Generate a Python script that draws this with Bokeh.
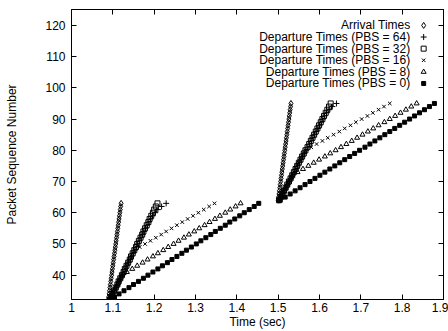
from bokeh.plotting import figure
from bokeh.models import Range1d, LinearAxis, FixedTicker, PrintfTickFormatter, Label
from bokeh.embed import file_html
from bokeh.resources import INLINE

# ---------------- data ----------------
seq_burst1 = [32, 33, 34, 35, 36, 37, 38, 39, 40, 41, 42, 43, 44, 45, 46, 47,
              48, 49, 50, 51, 52, 53, 54, 55, 56, 57, 58, 59, 60, 61, 62, 63]
seq_burst2 = [64, 65, 66, 67, 68, 69, 70, 71, 72, 73, 74, 75, 76, 77, 78, 79,
              80, 81, 82, 83, 84, 85, 86, 87, 88, 89, 90, 91, 92, 93, 94, 95]

arrival_1 = [1.089, 1.090, 1.091, 1.092, 1.093, 1.094, 1.095, 1.096, 1.097, 1.098, 1.099,
             1.100, 1.101, 1.102, 1.103, 1.104, 1.105, 1.106, 1.107, 1.108, 1.109, 1.110,
             1.111, 1.112, 1.113, 1.114, 1.115, 1.116, 1.117, 1.118, 1.119, 1.120]
arrival_2 = [1.500, 1.501, 1.502, 1.503, 1.504, 1.505, 1.506, 1.507, 1.508, 1.509, 1.510,
             1.511, 1.512, 1.513, 1.514, 1.515, 1.516, 1.517, 1.518, 1.519, 1.520, 1.521,
             1.522, 1.523, 1.524, 1.525, 1.526, 1.527, 1.528, 1.529, 1.530, 1.531]

pbs64_1 = [1.093, 1.097, 1.100, 1.104, 1.108, 1.112, 1.115, 1.119, 1.123, 1.127, 1.130,
           1.134, 1.138, 1.142, 1.145, 1.149, 1.153, 1.157, 1.160, 1.164, 1.168, 1.172,
           1.175, 1.179, 1.183, 1.187, 1.191, 1.196, 1.202, 1.209, 1.218, 1.229]
pbs64_2 = [1.503, 1.507, 1.511, 1.515, 1.519, 1.523, 1.527, 1.531, 1.535, 1.539, 1.543,
           1.547, 1.551, 1.555, 1.559, 1.563, 1.567, 1.572, 1.576, 1.580, 1.584, 1.588,
           1.592, 1.596, 1.600, 1.604, 1.608, 1.612, 1.617, 1.623, 1.631, 1.641]

pbs32_1 = [1.092, 1.096, 1.099, 1.103, 1.107, 1.111, 1.114, 1.118, 1.122, 1.126, 1.129,
           1.133, 1.137, 1.141, 1.144, 1.148, 1.152, 1.156, 1.159, 1.163, 1.167, 1.171,
           1.174, 1.178, 1.182, 1.186, 1.189, 1.193, 1.197, 1.200, 1.204, 1.208]
pbs32_2 = [1.502, 1.506, 1.510, 1.514, 1.518, 1.522, 1.526, 1.530, 1.534, 1.538, 1.542,
           1.546, 1.550, 1.554, 1.558, 1.562, 1.566, 1.571, 1.575, 1.579, 1.583, 1.587,
           1.591, 1.595, 1.599, 1.603, 1.607, 1.611, 1.615, 1.619, 1.623, 1.627]

pbs16_1 = [1.092, 1.096, 1.099, 1.103, 1.107, 1.111, 1.114, 1.118, 1.122, 1.126, 1.129,
           1.133, 1.137, 1.141, 1.144, 1.148, 1.152, 1.165, 1.178, 1.191, 1.204, 1.217,
           1.229, 1.242, 1.255, 1.268, 1.281, 1.294, 1.307, 1.320, 1.333, 1.346]
pbs16_2 = [1.502, 1.506, 1.510, 1.514, 1.518, 1.522, 1.526, 1.530, 1.534, 1.538, 1.542,
           1.546, 1.550, 1.554, 1.558, 1.562, 1.566, 1.580, 1.593, 1.607, 1.620, 1.634,
           1.648, 1.661, 1.675, 1.688, 1.702, 1.716, 1.729, 1.743, 1.756, 1.770]

pbs8_1 = [1.092, 1.096, 1.099, 1.103, 1.107, 1.111, 1.114, 1.118, 1.122, 1.134, 1.147,
          1.159, 1.172, 1.184, 1.197, 1.209, 1.222, 1.234, 1.247, 1.259, 1.272, 1.284,
          1.297, 1.309, 1.322, 1.334, 1.347, 1.359, 1.372, 1.384, 1.397, 1.409]
pbs8_2 = [1.502, 1.506, 1.510, 1.514, 1.518, 1.522, 1.526, 1.530, 1.534, 1.547, 1.560,
          1.573, 1.586, 1.599, 1.613, 1.626, 1.639, 1.652, 1.665, 1.678, 1.691, 1.704,
          1.717, 1.730, 1.743, 1.757, 1.770, 1.783, 1.796, 1.809, 1.822, 1.835]

pbs0_1 = [1.092, 1.104, 1.115, 1.127, 1.139, 1.150, 1.162, 1.174, 1.185, 1.197, 1.209,
          1.220, 1.232, 1.243, 1.255, 1.267, 1.278, 1.290, 1.302, 1.313, 1.325, 1.337,
          1.348, 1.360, 1.372, 1.383, 1.395, 1.407, 1.418, 1.430, 1.442, 1.453]
pbs0_2 = [1.505, 1.517, 1.529, 1.541, 1.553, 1.565, 1.577, 1.589, 1.601, 1.613, 1.625,
          1.637, 1.649, 1.661, 1.673, 1.685, 1.697, 1.710, 1.722, 1.734, 1.746, 1.758,
          1.770, 1.782, 1.794, 1.806, 1.818, 1.830, 1.842, 1.854, 1.866, 1.878]

x_ticks = [1.0, 1.1, 1.2, 1.3, 1.4, 1.5, 1.6, 1.7, 1.8, 1.9]
y_ticks = [40, 50, 60, 70, 80, 90, 100, 110, 120]

series_labels = ["Arrival Times",
                 "Departure Times (PBS = 64)",
                 "Departure Times (PBS = 32)",
                 "Departure Times (PBS = 16)",
                 "Departure Times (PBS = 8)",
                 "Departure Times (PBS = 0)"]

# ---------------- figure ----------------
X0, X1 = 1.0, 1.9
Y0, Y1 = 32.2, 125.1
FONT = "Liberation Sans"
FS = "12px"

p = figure(width=448, height=331, output_backend="svg", toolbar_location=None,
           x_range=Range1d(X0, X1), y_range=Range1d(Y0, Y1),
           min_border_left=71, min_border_right=5, min_border_top=9,
           min_border_bottom=31)
p.background_fill_color = "white"
p.border_fill_color = "white"
p.outline_line_color = "black"
p.outline_line_width = 1
p.xgrid.visible = False
p.ygrid.visible = False

for ax in (p.xaxis[0], p.yaxis[0]):
    ax.major_tick_in = 5
    ax.major_tick_out = 0
    ax.minor_tick_line_color = None
    ax.axis_line_color = "black"
    ax.major_tick_line_color = "black"
    ax.major_label_text_font = FONT
    ax.major_label_text_font_size = FS
    ax.major_label_text_color = "black"
    ax.axis_label_text_font = FONT
    ax.axis_label_text_font_size = FS
    ax.axis_label_text_font_style = "normal"
    ax.axis_label_text_color = "black"

p.xaxis[0].ticker = FixedTicker(ticks=x_ticks)
p.xaxis[0].formatter = PrintfTickFormatter(format="%g")
p.xaxis[0].axis_label = "Time (sec)"
p.xaxis[0].major_label_standoff = 3
p.xaxis[0].axis_label_standoff = 0

p.yaxis[0].ticker = FixedTicker(ticks=y_ticks)
p.yaxis[0].axis_label = "Packet Sequence Number"
p.yaxis[0].major_label_standoff = 6
p.yaxis[0].axis_label_standoff = 23

# mirrored tick-only axes (no labels drawn)
top = LinearAxis(ticker=FixedTicker(ticks=x_ticks), major_tick_in=5, major_tick_out=0,
                 minor_tick_line_color=None, major_label_text_font_size="1px",
                 major_label_text_color=None, major_label_standoff=0,
                 axis_line_color="black")
right = LinearAxis(ticker=FixedTicker(ticks=y_ticks), major_tick_in=5, major_tick_out=0,
                   minor_tick_line_color=None, major_label_text_font_size="1px",
                   major_label_text_color=None, major_label_standoff=0,
                   axis_line_color="black")
p.add_layout(top, "above")
p.add_layout(right, "right")

styles = [
    dict(marker="diamond", size=6, fill_color=None, line_color="black", line_width=1),
    dict(marker="cross", size=6, line_color="black", line_width=1),
    dict(marker="square", size=5, fill_color=None, line_color="black", line_width=1),
    dict(marker="x", size=5, line_color="black", line_width=1),
    dict(marker="triangle", size=5, fill_color=None, line_color="black", line_width=1),
    dict(marker="square", size=4, fill_color="black", line_color="black", line_width=1),
]
series = [(arrival_1, arrival_2), (pbs64_1, pbs64_2), (pbs32_1, pbs32_2),
          (pbs16_1, pbs16_2), (pbs8_1, pbs8_2), (pbs0_1, pbs0_2)]

for (b1, b2), st in zip(series, styles):
    p.scatter(b1 + b2, seq_burst1 + seq_burst2, **st)

# legend (text right-aligned, sample marker to its right)
leg_text_x = X1 - 0.080
leg_mark_x = X1 - 0.048
leg_top = 120.0
leg_step = 3.72
for i, (lab, st) in enumerate(zip(series_labels, styles)):
    yy = leg_top - i * leg_step
    p.add_layout(Label(x=leg_text_x, y=yy, text=lab, text_align="right",
                       text_baseline="middle", text_font=FONT,
                       text_font_size=FS, text_color="black"))
    p.scatter([leg_mark_x], [yy], **st)

open("out.html", "w").write(file_html(p, INLINE))
